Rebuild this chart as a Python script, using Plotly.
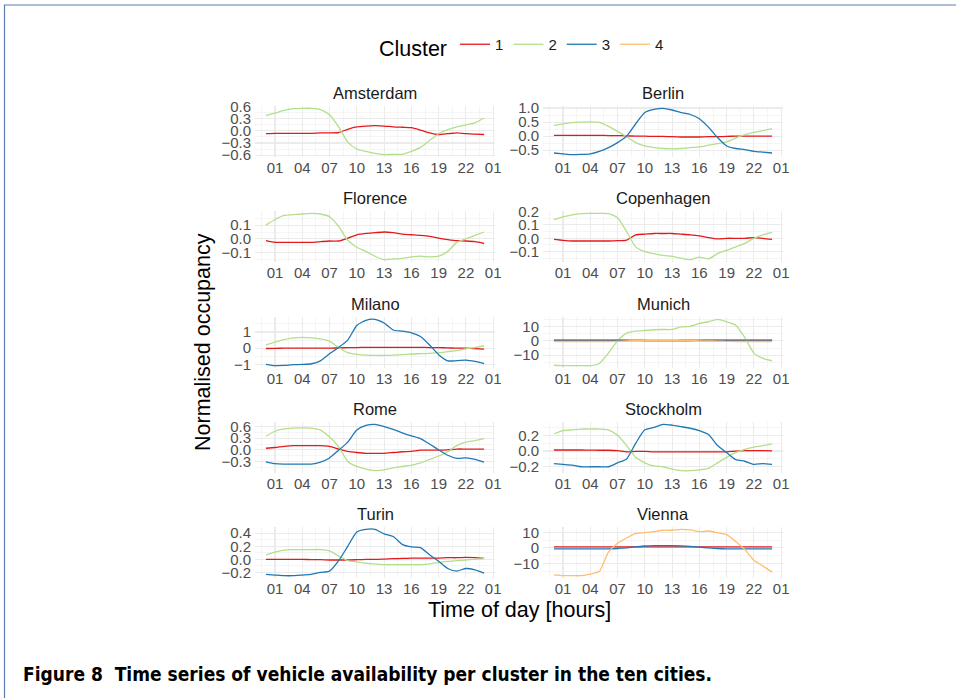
import plotly.graph_objects as go

# ---------------- data ----------------
hours = list(range(25))
tick_hours = [1, 4, 7, 10, 13, 16, 19, 22, 25]
tick_labels = ["01", "04", "07", "10", "13", "16", "19", "22", "01"]
cluster_names = ["1", "2", "3", "4"]
cluster_colors = ["#E31A1C", "#B2DF8A", "#1F78B4", "#FDBF6F"]

amsterdam_1 = [-0.07, -0.06, -0.06, -0.06, -0.06, -0.06, -0.05, -0.05, -0.04, 0.04, 0.10, 0.12, 0.13, 0.12, 0.10, 0.09, 0.08, 0.02, -0.05, -0.09, -0.07, -0.05, -0.07, -0.08, -0.09]
amsterdam_2 = [0.38, 0.44, 0.51, 0.55, 0.56, 0.56, 0.53, 0.40, 0.10, -0.28, -0.45, -0.51, -0.56, -0.59, -0.58, -0.58, -0.51, -0.41, -0.24, -0.07, 0.03, 0.10, 0.15, 0.20, 0.32]

berlin_1 = [0.03, 0.03, 0.03, 0.03, 0.03, 0.03, 0.02, 0.02, 0.01, 0.0, 0.0, -0.01, -0.01, -0.02, -0.03, -0.03, -0.03, -0.02, -0.02, -0.01, 0.0, 0.0, 0.0, 0.0, 0.0]
berlin_2 = [0.38, 0.44, 0.48, 0.50, 0.51, 0.49, 0.35, 0.17, -0.02, -0.23, -0.35, -0.41, -0.44, -0.45, -0.44, -0.41, -0.38, -0.32, -0.27, -0.20, -0.07, 0.05, 0.13, 0.20, 0.26]
berlin_3 = [-0.60, -0.63, -0.66, -0.65, -0.63, -0.54, -0.41, -0.23, 0.0, 0.44, 0.84, 0.95, 0.99, 0.93, 0.84, 0.77, 0.62, 0.32, -0.05, -0.35, -0.44, -0.48, -0.54, -0.57, -0.60]

florence_1 = [-0.013, -0.025, -0.025, -0.025, -0.025, -0.025, -0.02, -0.015, -0.015, 0.005, 0.03, 0.04, 0.045, 0.05, 0.045, 0.035, 0.03, 0.025, 0.018, 0.005, -0.005, -0.013, -0.015, -0.02, -0.033]
florence_2 = [0.10, 0.14, 0.17, 0.175, 0.18, 0.185, 0.18, 0.16, 0.09, -0.01, -0.06, -0.09, -0.125, -0.15, -0.145, -0.14, -0.13, -0.125, -0.13, -0.125, -0.09, -0.025, 0.0, 0.025, 0.05]

copenhagen_1 = [-0.008, -0.015, -0.02, -0.02, -0.02, -0.02, -0.02, -0.018, -0.013, 0.026, 0.031, 0.036, 0.036, 0.036, 0.031, 0.026, 0.018, 0.005, -0.005, 0.0, 0.0, 0.0, 0.005, 0.0, -0.008]
copenhagen_2 = [0.14, 0.16, 0.175, 0.185, 0.187, 0.187, 0.185, 0.154, 0.05, -0.064, -0.10, -0.115, -0.128, -0.136, -0.149, -0.16, -0.141, -0.154, -0.115, -0.09, -0.064, -0.038, 0.0, 0.026, 0.044]

milano_1 = [-0.02, -0.01, 0.0, 0.0, 0.0, 0.0, 0.0, 0.0, 0.02, 0.03, 0.04, 0.05, 0.05, 0.05, 0.05, 0.05, 0.05, 0.05, 0.04, 0.03, 0.02, 0.0, 0.0, -0.03, -0.06]
milano_2 = [0.21, 0.38, 0.53, 0.64, 0.66, 0.64, 0.57, 0.43, 0.04, -0.28, -0.38, -0.43, -0.45, -0.45, -0.43, -0.40, -0.36, -0.34, -0.32, -0.28, -0.21, -0.15, -0.04, 0.04, 0.15]
milano_3 = [-1.0, -1.08, -1.06, -1.02, -1.0, -0.96, -0.78, -0.35, 0.05, 0.50, 1.40, 1.72, 1.78, 1.55, 1.12, 1.05, 0.95, 0.72, 0.20, -0.40, -0.78, -0.77, -0.74, -0.82, -0.95]

munich_1 = [0.3] * 25
munich_2 = [-17.0, -17.3, -17.3, -17.3, -17.3, -15.8, -8.5, 0.0, 5.4, 6.8, 7.3, 7.8, 8.0, 8.0, 9.8, 10.2, 12.2, 13.4, 15.1, 13.4, 11.0, 2.4, -8.5, -12.2, -13.9]
munich_3 = [0.6, 0.6, 0.6, 0.6, 0.6, 0.6, 0.6, 0.6, 0.5, 0.4, 0.3, 0.2, 0.2, 0.2, 0.3, 0.3, 0.4, 0.5, 0.5, 0.6, 0.6, 0.6, 0.6, 0.6, 0.6]
munich_4 = [-0.4, -0.4, -0.4, -0.4, -0.4, -0.4, -0.4, -0.3, 0.0, 0.2, 0.3, 0.3, 0.3, 0.3, 0.2, 0.2, 0.1, 0.0, -0.1, -0.3, -0.4, -0.4, -0.4, -0.4, -0.4]

rome_1 = [0.04, 0.06, 0.09, 0.11, 0.11, 0.11, 0.11, 0.09, 0.02, -0.04, -0.07, -0.09, -0.09, -0.09, -0.07, -0.05, -0.04, -0.01, -0.01, -0.01, 0.0, 0.02, 0.02, 0.02, 0.02]
rome_2 = [0.35, 0.48, 0.54, 0.56, 0.57, 0.56, 0.51, 0.33, 0.08, -0.30, -0.43, -0.50, -0.54, -0.52, -0.47, -0.43, -0.40, -0.34, -0.25, -0.16, -0.05, 0.11, 0.20, 0.24, 0.29]
rome_3 = [-0.31, -0.36, -0.37, -0.37, -0.37, -0.37, -0.32, -0.21, -0.01, 0.20, 0.51, 0.63, 0.66, 0.60, 0.53, 0.44, 0.36, 0.29, 0.15, 0.0, -0.14, -0.22, -0.21, -0.25, -0.32]

stockholm_1 = [0.013, 0.013, 0.013, 0.013, 0.012, 0.01, 0.01, 0.005, -0.01, -0.005, -0.005, -0.01, -0.01, -0.01, -0.01, -0.01, -0.01, -0.01, -0.01, -0.01, 0.0, 0.005, 0.005, 0.005, 0.003]
stockholm_2 = [0.22, 0.26, 0.27, 0.28, 0.28, 0.28, 0.27, 0.20, 0.07, -0.08, -0.15, -0.19, -0.20, -0.23, -0.25, -0.25, -0.24, -0.22, -0.15, -0.08, -0.02, 0.02, 0.05, 0.07, 0.09]
stockholm_3 = [-0.16, -0.17, -0.18, -0.20, -0.20, -0.20, -0.20, -0.15, -0.10, 0.10, 0.27, 0.30, 0.34, 0.33, 0.31, 0.29, 0.26, 0.21, 0.07, -0.02, -0.11, -0.13, -0.17, -0.16, -0.17]

turin_1 = [0.0, 0.0, 0.0, 0.0, 0.0, -0.005, -0.005, -0.01, -0.01, -0.01, -0.005, 0.0, 0.0, 0.005, 0.01, 0.015, 0.02, 0.02, 0.02, 0.02, 0.025, 0.025, 0.03, 0.025, 0.015]
turin_2 = [0.07, 0.11, 0.14, 0.15, 0.15, 0.15, 0.15, 0.13, 0.05, -0.02, -0.04, -0.06, -0.07, -0.08, -0.08, -0.08, -0.08, -0.08, -0.07, -0.05, -0.03, -0.02, -0.01, 0.0, 0.01]
turin_3 = [-0.23, -0.24, -0.25, -0.25, -0.24, -0.23, -0.20, -0.18, -0.02, 0.20, 0.42, 0.46, 0.46, 0.39, 0.35, 0.23, 0.19, 0.18, 0.07, -0.03, -0.14, -0.18, -0.14, -0.16, -0.21]

vienna_1 = [0.7] * 25
vienna_3 = [-0.6, -0.6, -0.6, -0.6, -0.6, -0.6, -0.6, -0.4, 0.0, 0.6, 1.2, 1.5, 1.5, 1.5, 1.3, 1.0, 0.5, 0.0, -0.4, -0.6, -0.6, -0.6, -0.6, -0.6, -0.6]
vienna_4 = [-17.5, -18.0, -18.0, -18.0, -17.0, -15.2, -2.7, 3.0, 6.4, 9.3, 9.8, 10.5, 11.4, 11.4, 12.0, 11.6, 10.5, 10.9, 9.8, 8.6, 4.1, -1.1, -8.0, -11.8, -15.7]

# city name, {cluster index: series}, y tick values, decimals
panels = [
    ("Amsterdam", {1: amsterdam_1, 2: amsterdam_2}, [-0.6, -0.3, 0.0, 0.3, 0.6], 1),
    ("Berlin", {1: berlin_1, 2: berlin_2, 3: berlin_3}, [-0.5, 0.0, 0.5, 1.0], 1),
    ("Florence", {1: florence_1, 2: florence_2}, [-0.1, 0.0, 0.1], 1),
    ("Copenhagen", {1: copenhagen_1, 2: copenhagen_2}, [-0.1, 0.0, 0.1, 0.2], 1),
    ("Milano", {1: milano_1, 2: milano_2, 3: milano_3}, [-1, 0, 1], 0),
    ("Munich", {1: munich_1, 2: munich_2, 3: munich_3, 4: munich_4}, [-10, 0, 10], 0),
    ("Rome", {1: rome_1, 2: rome_2, 3: rome_3}, [-0.3, 0.0, 0.3, 0.6], 1),
    ("Stockholm", {1: stockholm_1, 2: stockholm_2, 3: stockholm_3}, [-0.2, 0.0, 0.2], 1),
    ("Turin", {1: turin_1, 2: turin_2, 3: turin_3}, [-0.2, 0.0, 0.2, 0.4], 1),
    ("Vienna", {1: vienna_1, 3: vienna_3, 4: vienna_4}, [-10, 0, 10], 0),
]

# ---------------- layout geometry ----------------
W, H = 956, 698
col_x = [(255, 495), (543, 783)]
row_top = [106, 211, 317, 422, 527]
panel_h = 51
FONT = "Liberation Sans, Arial, Helvetica, sans-serif"
GRID = "#EBEBEB"


def fmt(v, d):
    s = f"{abs(v):.{d}f}"
    return ("\u2212" + s) if v < 0 else s


fig = go.Figure()
layout = dict()
annotations = []
shown = set()

for i, (city, series, yticks, dec) in enumerate(panels):
    r, c = divmod(i, 2)
    n = i + 1
    xa = "x" if n == 1 else f"x{n}"
    ya = "y" if n == 1 else f"y{n}"
    allv = [v for s in series.values() for v in s]
    lo, hi = min(allv), max(allv)
    pad = 0.05 * (hi - lo)
    for k in sorted(series):
        name = cluster_names[k - 1]
        fig.add_trace(go.Scatter(
            x=hours, y=series[k], mode="lines", xaxis=xa, yaxis=ya,
            line=dict(color=cluster_colors[k - 1], width=1.3, shape="spline", smoothing=0.6),
            name=name, legendgroup=name, legendrank=k,
            showlegend=(k not in shown), hoverinfo="skip"))
        shown.add(k)
    x0, x1 = col_x[c]
    top = row_top[r]
    ystep = yticks[1] - yticks[0]
    layout["xaxis" if n == 1 else f"xaxis{n}"] = dict(
        domain=[x0 / W, x1 / W], anchor=ya, range=[-1.2, 25.2],
        tickvals=tick_hours, ticktext=tick_labels, showline=False, zeroline=False,
        ticks="", gridcolor=GRID, gridwidth=1.1, automargin=False,
        minor=dict(tick0=-0.5, dtick=1.5, showgrid=True, gridcolor=GRID, gridwidth=0.5),
        tickfont=dict(family=FONT, size=15, color="#4D4D4D"))
    layout["yaxis" if n == 1 else f"yaxis{n}"] = dict(
        domain=[1 - (top + panel_h) / H, 1 - top / H], anchor=xa,
        range=[lo - pad, hi + pad], automargin=False, ticklabelstandoff=3,
        tickvals=yticks, ticktext=[fmt(v, dec) for v in yticks],
        showline=False, zeroline=False, ticks="", gridcolor=GRID, gridwidth=1.1,
        minor=dict(tick0=yticks[0] - ystep / 2, dtick=ystep / 2, showgrid=True,
                   gridcolor=GRID, gridwidth=0.5),
        tickfont=dict(family=FONT, size=15, color="#4D4D4D"))
    annotations.append(dict(
        text=city, x=(x0 + x1) / 2 / W, y=1 - (top - 13) / H, xref="paper", yref="paper",
        xanchor="center", yanchor="middle", showarrow=False,
        font=dict(family=FONT, size=16.5, color="#1A1A1A")))

annotations += [
    dict(text="Normalised occupancy", x=203 / W, y=1 - 342 / H, xref="paper", yref="paper",
         textangle=-90, showarrow=False, xanchor="center", yanchor="middle",
         font=dict(family=FONT, size=21.5, color="#000000")),
    dict(text="Time of day [hours]", x=519 / W, y=1 - 610 / H, xref="paper", yref="paper",
         showarrow=False, xanchor="center", yanchor="middle",
         font=dict(family=FONT, size=21.5, color="#000000")),
    dict(text="<b>Figure 8  Time series of vehicle availability per cluster in the ten cities.</b>",
         x=21 / W, y=1 - 674 / H, xref="paper", yref="paper", showarrow=False,
         xanchor="left", yanchor="middle",
         font=dict(family="Liberation Sans Narrow, DejaVu Sans Condensed, Arial Narrow, sans-serif",
                   size=19, color="#000000")),
]

shapes = [
    dict(type="line", xref="paper", yref="paper", x0=4 / W, x1=1, y0=1 - 5 / H, y1=1 - 5 / H,
         line=dict(color="#5B7DB1", width=1.2), layer="above"),
    dict(type="line", xref="paper", yref="paper", x0=4.5 / W, x1=4.5 / W, y0=0, y1=1 - 5 / H,
         line=dict(color="#5B7DB1", width=1.2), layer="above"),
]

fig.update_layout(
    width=W, height=H, margin=dict(l=0, r=0, t=0, b=0, autoexpand=False),
    paper_bgcolor="white", plot_bgcolor="white",
    annotations=annotations, shapes=shapes,
    legend=dict(orientation="h", x=0.547, xanchor="center", y=1 - 28 / H, yanchor="top",
                title=dict(text="Cluster", side="left", font=dict(family=FONT, size=21.5, color="#000")),
                font=dict(family=FONT, size=15, color="#1A1A1A"), itemwidth=30,
                traceorder="normal"),
    **layout)

fig.write_html("out.html", config={"displayModeBar": False, "staticPlot": True},
               post_script="document.body.style.margin='0';document.documentElement.style.overflow='hidden';")
